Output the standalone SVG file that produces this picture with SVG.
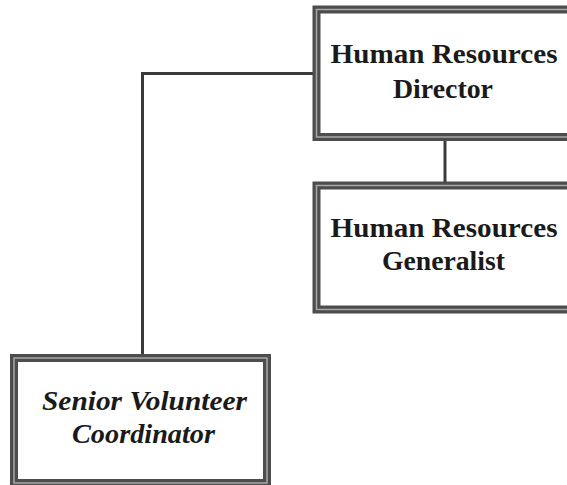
<svg xmlns="http://www.w3.org/2000/svg" width="567" height="485" viewBox="0 0 567 485">
<style>
.box{fill:#fff;stroke:#4d4d4d;stroke-width:8}
.mid{fill:none;stroke:#a8a8a8;stroke-width:1.5}
.t{font-family:"Liberation Serif",serif;font-weight:bold;font-size:27px;fill:#1a1a1a;text-anchor:middle}
.i{font-style:italic}
.c{fill:none;stroke:#3a3a3a;stroke-width:3}
</style>
<g id="connectors">
<path class="c" d="M445 140V182"/>
<path class="c" d="M142.5 355V73.5H313"/>
</g>
<g id="hr-director">
<rect class="box" x="316.5" y="9.5" width="270" height="127.5"/>
<rect class="mid" x="316.5" y="9.5" width="270" height="127.5"/>
<text class="t" x="444" y="63" textLength="227" lengthAdjust="spacingAndGlyphs">Human Resources</text>
<text class="t" x="443" y="98" textLength="100" lengthAdjust="spacingAndGlyphs">Director</text>
</g>
<g id="hr-generalist">
<rect class="box" x="316.5" y="185.5" width="270" height="124"/>
<rect class="mid" x="316.5" y="185.5" width="270" height="124"/>
<text class="t" x="444" y="237" textLength="227" lengthAdjust="spacingAndGlyphs">Human Resources</text>
<text class="t" x="443.5" y="270" textLength="123" lengthAdjust="spacingAndGlyphs">Generalist</text>
</g>
<g id="senior-volunteer-coordinator">
<rect class="box" x="14" y="358" width="253" height="125"/>
<rect class="mid" x="14" y="358" width="253" height="125"/>
<text class="t i" x="144.5" y="410" textLength="205" lengthAdjust="spacingAndGlyphs">Senior Volunteer</text>
<text class="t i" x="143.5" y="443" textLength="143" lengthAdjust="spacingAndGlyphs">Coordinator</text>
</g>
</svg>
